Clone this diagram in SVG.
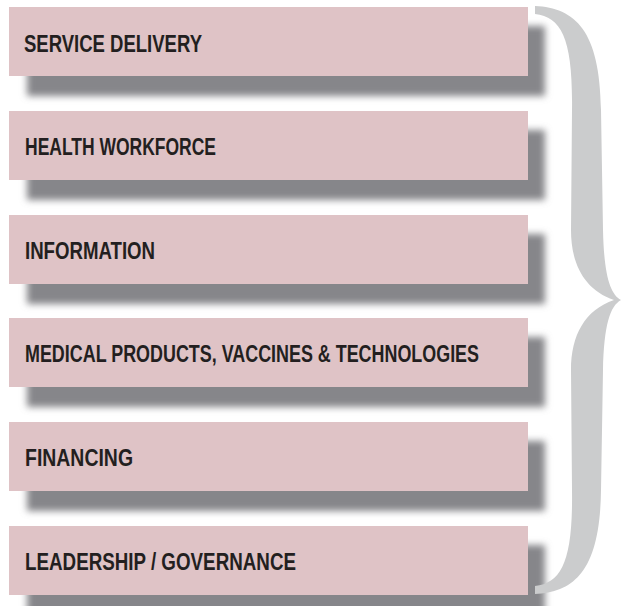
<svg xmlns="http://www.w3.org/2000/svg" width="621" height="606" viewBox="0 0 621 606">
<defs>
<filter id="sh" x="-10%" y="-40%" width="120%" height="180%">
<feGaussianBlur stdDeviation="3.5"/>
</filter>
<style>
.box{fill:#dfc3c6}
.shadow{fill:#86868a;filter:url(#sh)}
.lbl{font-family:"Liberation Sans",Arial,sans-serif;font-weight:bold;font-size:24px;fill:#231f20}
.brace{fill:#cbcccd}
</style>
</defs>
<rect width="621" height="606" fill="#ffffff"/>
<g id="node-service-delivery">
<rect class="shadow" x="27" y="26" width="518" height="70"/>
<rect class="box" x="9" y="7" width="519" height="69"/>
<text class="lbl" x="24" y="52" textLength="178" lengthAdjust="spacingAndGlyphs">SERVICE DELIVERY</text>
</g>
<g id="node-health-workforce">
<rect class="shadow" x="27" y="130" width="518" height="70"/>
<rect class="box" x="9" y="111" width="519" height="69"/>
<text class="lbl" x="25" y="155" textLength="191" lengthAdjust="spacingAndGlyphs">HEALTH WORKFORCE</text>
</g>
<g id="node-information">
<rect class="shadow" x="27" y="234" width="518" height="70"/>
<rect class="box" x="9" y="215" width="519" height="69"/>
<text class="lbl" x="25" y="259" textLength="130" lengthAdjust="spacingAndGlyphs">INFORMATION</text>
</g>
<g id="node-medical-products">
<rect class="shadow" x="27" y="337" width="518" height="70"/>
<rect class="box" x="9" y="318" width="519" height="69"/>
<text class="lbl" x="25" y="362" textLength="454" lengthAdjust="spacingAndGlyphs">MEDICAL PRODUCTS, VACCINES &amp; TECHNOLOGIES</text>
</g>
<g id="node-financing">
<rect class="shadow" x="27" y="441" width="518" height="70"/>
<rect class="box" x="9" y="422" width="519" height="69"/>
<text class="lbl" x="25" y="466" textLength="108" lengthAdjust="spacingAndGlyphs">FINANCING</text>
</g>
<g id="node-leadership-governance">
<rect class="shadow" x="27" y="545" width="518" height="70"/>
<rect class="box" x="9" y="526" width="519" height="69"/>
<text class="lbl" x="25" y="570" textLength="271" lengthAdjust="spacingAndGlyphs">LEADERSHIP / GOVERNANCE</text>
</g>
<g id="connectors">
<path class="brace" d="M535,6 C575,8 600,30 601,110 L603,230 C604,275 610,294 621,300 C610,306 604,325 603,370 L601,490 C600,570 575,592 535,594 L535,586 C562,583 573,560 572,490 L571,370 C571,335 585,310 614,300 C585,290 571,265 571,230 L572,110 C573,40 562,17 535,14 Z"/>
</g>
</svg>
